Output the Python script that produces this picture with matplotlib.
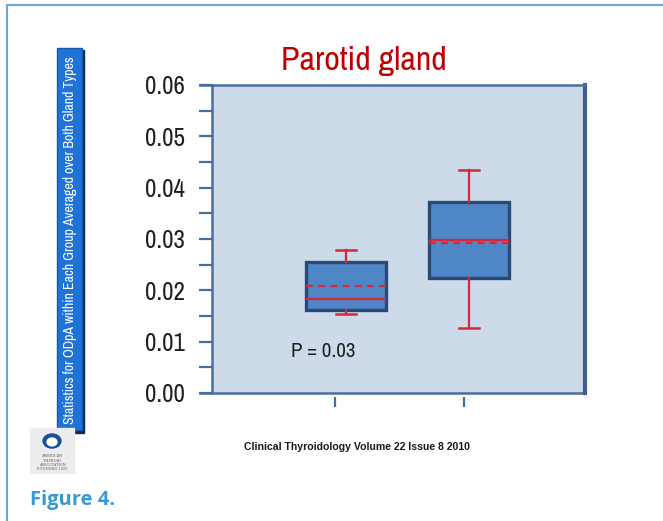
import matplotlib
matplotlib.use('Agg')
import matplotlib.pyplot as plt
from matplotlib import font_manager as fm
from matplotlib.textpath import text_to_path
from matplotlib.patches import Rectangle, Circle
from matplotlib.lines import Line2D
from matplotlib.ticker import MultipleLocator, FormatStrFormatter

# box statistics (two groups)
q1 = [0.0162, 0.0224]
med = [0.0183, 0.0298]
q3 = [0.0255, 0.0372]
whislo = [0.0154, 0.0127]
whishi = [0.0279, 0.0434]
means = [0.0209, 0.0292]
yticks = [0.00, 0.01, 0.02, 0.03, 0.04, 0.05, 0.06]

title = 'Parotid gland'
side_label = 'Statistics for ODpA within Each Group Averaged over Both Gland Types'
source = 'Clinical Thyroidology Volume 22 Issue 8 2010'
p_text = 'P = 0.03'
fig_label = 'Figure 4.'

W, H = 663, 521
RED = '#D9263A'


def weight_of(f):
    return f.weight if isinstance(f.weight, int) else fm.weight_dict.get(f.weight, 400)


def text_w(s, prop):
    # width in points of s at the prop's size
    w, h, d = text_to_path.get_text_width_height_descent(s, prop, ismath=False)
    return w


def narrow_candidates():
    out = []
    for f in fm.fontManager.ttflist:
        nm = f.name.lower()
        narrow = ('narrow' in nm or 'condensed' in nm
                  or f.stretch in ('condensed', 'semi-condensed', 'extra-condensed'))
        if not narrow or f.style != 'normal' or 'mono' in nm or 'serif' in nm and 'sans' not in nm:
            continue
        if not (400 <= weight_of(f) <= 500):
            continue
        out.append(f.fname)
    return out


def pick(files, target_em):
    # proportional face whose '0.06' width per em is closest to Arial Narrow
    best = None
    for fn in files:
        try:
            p = fm.FontProperties(fname=fn, size=1)
            r = text_w('0.06', p)
            if text_w('iiii', p) > 0.6 * text_w('MMMM', p):
                continue  # monospaced
        except Exception:
            continue
        score = abs(r - target_em)
        if best is None or score < best[0]:
            best = (score, fn)
    return best[1] if best else None


def bold_of(fname):
    # the bold face of the same family, if installed
    fam = fm.FontProperties(fname=fname).get_name()
    best = None
    for f in fm.fontManager.ttflist:
        if f.name == fam and f.style == 'normal' and 600 <= weight_of(f) <= 800:
            d = abs(weight_of(f) - 700)
            if best is None or d < best[0]:
                best = (d, f.fname)
    return best[1] if best else None


reg_file = pick(narrow_candidates(), 1.6)
bold_file = bold_of(reg_file) if reg_file else None
NARROW = fm.FontProperties(fname=reg_file) if reg_file else \
    fm.FontProperties(family=['Liberation Sans', 'DejaVu Sans'])
NARROW_B = fm.FontProperties(fname=bold_file) if bold_file else \
    fm.FontProperties(family=['Liberation Sans', 'DejaVu Sans'], weight='bold')
HEAD_B = fm.FontProperties(family=['Open Sans', 'DejaVu Sans'], weight='bold')


def fit(base, s, px):
    # font properties sized so that s spans about px pixels
    p = base.copy()
    p.set_size(1)
    w = text_w(s, p)
    p.set_size(px * 0.72 / w)
    return p


def fx(px):
    return px / W


def fy(py):
    return 1 - py / H


fig = plt.figure(figsize=(W / 100, H / 100), dpi=100)
fig.patch.set_facecolor('white')

# page frame (left and top rules)
fig.add_artist(Line2D([fx(7), fx(7)], [0, fy(5)], color='#6AA6DA', lw=1.5))
fig.add_artist(Line2D([fx(7), 1], [fy(5), fy(5)], color='#6AA6DA', lw=1.5))

ax = fig.add_axes([fx(212), fy(393), fx(585) - fx(212), fy(85) - fy(393)])
ax.set_facecolor('#CDDAEA')

stats = []
for i in range(len(med)):
    stats.append(dict(q1=q1[i], med=med[i], q3=q3[i], whislo=whislo[i],
                      whishi=whishi[i], mean=means[i]))

box_pos = [1.085, 2.04]
ax.bxp(stats, positions=box_pos, widths=0.615, capwidths=0.16,
       showmeans=True, meanline=True, showfliers=False, patch_artist=True,
       boxprops=dict(facecolor='#4F86C6', edgecolor='#2B4A73', linewidth=2.4),
       whiskerprops=dict(color=RED, linewidth=1.6),
       capprops=dict(color=RED, linewidth=1.8),
       medianprops=dict(color=RED, linewidth=1.6),
       meanprops=dict(color=RED, linewidth=1.6, linestyle=(0, (3, 2.5))))

ax.set_xlim(0.0465, 2.938)
ax.set_ylim(0, 0.06)
ax.set_xticks([1, 2])
ax.set_xticklabels([])
ax.set_yticks(yticks)
ax.yaxis.set_minor_locator(MultipleLocator(0.005))
ax.yaxis.set_major_formatter(FormatStrFormatter('%.2f'))
ax.tick_params(axis='y', which='both', direction='out', length=9.5, width=1.6,
               color='#4A6E9B', pad=10, labelcolor='#1E1E1E')
ax.tick_params(axis='x', direction='out', length=7, width=1.6, color='#4A6E9B')
tick_prop = fit(NARROW, '0.06', 40)
for lab in ax.get_yticklabels():
    lab.set_fontproperties(tick_prop)

ax.spines['bottom'].set_position(('outward', 3))
ax.spines['bottom'].set_visible(False)
for s in ['left', 'top']:
    ax.spines[s].set_color('#4A6E9B')
    ax.spines[s].set_linewidth(1.8)
ax.spines['right'].set_color('#3F5F8A')
ax.spines['right'].set_linewidth(3)
# top and bottom rules reach out over the tick marks
ext = -12 / (585 - 212)
ax.plot([ext, 1], [0, 0], transform=ax.transAxes, clip_on=False,
        color='#4A6E9B', lw=1.8)
ax.plot([ext, 0], [1, 1], transform=ax.transAxes, clip_on=False,
        color='#4A6E9B', lw=1.8)

ax.text(0.66, 0.0081, p_text, va='center', ha='left',
        fontproperties=fit(NARROW, p_text, 64), color='#1E1E1E')

fig.text(fx(364), fy(70), title, ha='center', va='baseline',
         fontproperties=fit(NARROW, title, 166), color='#C00000')

# blue side banner with rotated label
fig.add_artist(Rectangle((fx(59), fy(433)), fx(25), fy(50) - fy(433),
                         transform=fig.transFigure, color='#0C2A4E'))
fig.add_artist(Rectangle((fx(57), fy(430)), fx(25), fy(48) - fy(430),
                         transform=fig.transFigure, facecolor='#1F72D6',
                         edgecolor='#1758A8', lw=1))
fig.text(fx(70), fy(240), side_label, rotation=90, ha='center', va='center',
         color='white', fontproperties=fit(NARROW, side_label, 368))

# society logo
fig.add_artist(Rectangle((fx(30), fy(473)), fx(44), fy(428) - fy(473),
                         transform=fig.transFigure, color='#EDEDED'))
fig.add_artist(Circle((fx(52), fy(441)), 0.0135, transform=fig.transFigure,
                      color='#1B4F9C'))
fig.add_artist(Circle((fx(52), fy(442)), 0.0075, transform=fig.transFigure,
                      color='white'))
for i, t in enumerate(['AMERICAN', 'THYROID', 'ASSOCIATION', 'FOUNDED 1923']):
    fig.text(fx(52), fy(456 + i * 4.5), t, ha='center', va='center',
             fontsize=2.6, color='#555555', family='DejaVu Serif')

fig.text(fx(244), fy(447), source, ha='left', va='center',
         fontproperties=fit(NARROW_B, source, 225), color='#1A1A1A')

fig.text(fx(30), fy(500), fig_label, ha='left', va='center',
         fontproperties=fit(HEAD_B, fig_label, 85), color='#3A98D3')

fig.savefig('out.png', dpi=100)
